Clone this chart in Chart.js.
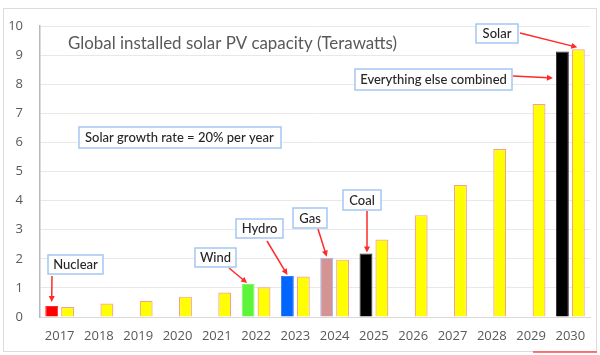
<!DOCTYPE html>
<html>
<head>
<meta charset="utf-8">
<script src="https://cdn.jsdelivr.net/npm/chart.js@4"></script>
<style>
  html, body { margin: 0; padding: 0; background: #ffffff; }
  #wrap { width: 600px; height: 355px; position: relative; }
</style>
</head>
<body>
<div id="wrap"><canvas id="c" width="600" height="355"></canvas></div>
<script>
// ---- data ----
const years = ['2017','2018','2019','2020','2021','2022','2023','2024','2025','2026','2027','2028','2029','2030'];
const solarTW = [0.34, 0.46, 0.56, 0.70, 0.84, 1.02, 1.39, 1.97, 2.66, 3.50, 4.54, 5.77, 7.32, 9.20];
const otherTW = [0.38, null, null, null, null, 1.13, 1.41, 2.04, 2.18, null, null, null, null, 9.12];
const otherNames = ['Nuclear', '', '', '', '', 'Wind', 'Hydro', 'Gas', 'Coal', '', '', '', '', 'Everything else combined'];
const chartTitle = 'Global installed solar PV capacity (Terawatts)';
const growthNote = 'Solar growth rate = 20% per year';
const solarLabel = 'Solar';

// ---- styles ----
const otherFill = ['#ff0000', null, null, null, null, '#5cf53a', '#0066ff', '#d49494', '#000000', null, null, null, null, '#000000'];
const otherBorder = ['#ff3030', null, null, null, null, '#88f070', '#3a7ff0', '#9ab8ec', '#333333', null, null, null, null, '#333333'];

// annotation layout (boxes in px; arrow tips follow bars via scales)
const notes = [
  {text: otherNames[0], box: [48, 255, 55, 19], from: [52, 276], ds: 0, i: 0, dx: 0, dy: -4},
  {text: otherNames[5], box: [195, 248, 41, 19], from: [229, 268], ds: 0, i: 5, dx: -1, dy: -1},
  {text: otherNames[6], box: [236, 219, 47, 19], from: [267, 241], ds: 0, i: 6, dx: 0, dy: -1},
  {text: otherNames[7], box: [293, 208, 34, 20], from: [318, 229], ds: 0, i: 7, dx: 0, dy: -1},
  {text: otherNames[8], box: [343, 190, 38, 20], from: [367, 211], ds: 0, i: 8, dx: 1, dy: -1},
  {text: solarLabel, box: [476, 24, 42, 19], from: [520, 33], ds: 1, i: 13, dx: -1, dy: -2},
  {text: otherNames[13], box: [355, 69, 157, 21], from: [513, 76], ds: 0, i: 13, side: 'left', ty: 78},
];
const growthBox = [79, 127, 202, 21];

function arrow(ctx, x1, y1, x2, y2) {
  const ang = Math.atan2(y2 - y1, x2 - x1);
  const hl = 6, hw = 3;
  ctx.strokeStyle = '#ff2a2a';
  ctx.fillStyle = '#ff2a2a';
  ctx.lineWidth = 1.5;
  ctx.beginPath();
  ctx.moveTo(x1, y1);
  ctx.lineTo(x2 - Math.cos(ang) * hl * 0.8, y2 - Math.sin(ang) * hl * 0.8);
  ctx.stroke();
  ctx.beginPath();
  ctx.moveTo(x2, y2);
  ctx.lineTo(x2 - Math.cos(ang) * hl - Math.sin(ang) * hw, y2 - Math.sin(ang) * hl + Math.cos(ang) * hw);
  ctx.lineTo(x2 - Math.cos(ang) * hl + Math.sin(ang) * hw, y2 - Math.sin(ang) * hl - Math.cos(ang) * hw);
  ctx.closePath();
  ctx.fill();
}

function textBox(ctx, b, text, align) {
  ctx.save();
  ctx.fillStyle = '#ffffff';
  ctx.fillRect(b[0], b[1], b[2], b[3]);
  ctx.strokeStyle = '#a4c6f2';
  ctx.lineWidth = 1.5;
  ctx.strokeRect(b[0], b[1], b[2], b[3]);
  ctx.fillStyle = '#262626';
  ctx.font = '500 13px Lato';
  ctx.textBaseline = 'middle';
  if (align === 'left') {
    ctx.textAlign = 'left';
    ctx.fillText(text, b[0] + 6, b[1] + b[3] / 2 + 0.5);
  } else {
    ctx.textAlign = 'center';
    ctx.fillText(text, b[0] + b[2] / 2, b[1] + b[3] / 2 + 0.5);
  }
  ctx.restore();
}

const decor = {
  id: 'decor',
  beforeDraw(chart) {
    const ctx = chart.ctx;
    ctx.save();
    ctx.fillStyle = '#ffffff';
    ctx.fillRect(0, 0, chart.width, chart.height);
    ctx.strokeStyle = '#dcdcdc';
    ctx.lineWidth = 1;
    ctx.strokeRect(3.5, 8.5, 593, 343);
    ctx.restore();
  },
  afterDraw(chart) {
    const ctx = chart.ctx;
    ctx.save();
    // title
    ctx.fillStyle = '#595959';
    ctx.font = '16.9px Lato';
    ctx.textBaseline = 'middle';
    ctx.textAlign = 'left';
    ctx.fillText(chartTitle, 68, 44);
    // growth note
    textBox(ctx, growthBox, growthNote, 'left');
    // annotations
    notes.forEach(n => {
      const el = chart.getDatasetMeta(n.ds).data[n.i];
      let tx, ty;
      if (n.side === 'left') {
        tx = el.x - el.width / 2 - 3;
        ty = n.ty;
      } else {
        tx = el.x + n.dx;
        ty = el.y + n.dy;
      }
      arrow(ctx, n.from[0], n.from[1], tx, ty);
      textBox(ctx, n.box, n.text);
    });
    // stray red underline at bottom right
    ctx.strokeStyle = '#ff4a4a';
    ctx.lineWidth = 1.5;
    ctx.beginPath();
    ctx.moveTo(533, 352);
    ctx.lineTo(597, 352);
    ctx.stroke();
    ctx.restore();
  }
};

new Chart(document.getElementById('c'), {
  type: 'bar',
  data: {
    labels: years,
    datasets: [
      {
        label: 'Other sources',
        data: otherTW,
        backgroundColor: otherFill,
        borderColor: otherBorder,
        borderWidth: 1,
        categoryPercentage: 0.81,
        barPercentage: 0.81
      },
      {
        label: solarLabel,
        data: solarTW,
        backgroundColor: '#ffff00',
        borderColor: '#f5a28a',
        borderWidth: 1.2,
        categoryPercentage: 0.81,
        barPercentage: 0.81
      }
    ]
  },
  options: {
    responsive: false,
    animation: false,
    devicePixelRatio: 1,
    layout: { padding: { top: 26, right: 10, bottom: 0, left: 0 } },
    plugins: { legend: { display: false }, tooltip: { enabled: false }, title: { display: false } },
    scales: {
      x: {
        grid: { display: false, drawTicks: false },
        border: { display: true, color: '#d9d9d9', width: 1 },
        ticks: { color: '#595959', font: { family: 'Open Sans', size: 13 }, padding: 11, maxRotation: 0, autoSkip: false },
        afterFit(s) { s.height = 38; }
      },
      y: {
        min: 0, max: 10,
        grid: { color: '#e8e8e8', drawTicks: false, lineWidth: 1 },
        border: { display: true, color: '#b8b8b8', width: 1.5 },
        ticks: { stepSize: 1, color: '#595959', font: { family: 'Open Sans', size: 13 }, padding: 17 },
        afterFit(s) { s.width = 40; }
      }
    }
  },
  plugins: [decor]
});
</script>
</body>
</html>
